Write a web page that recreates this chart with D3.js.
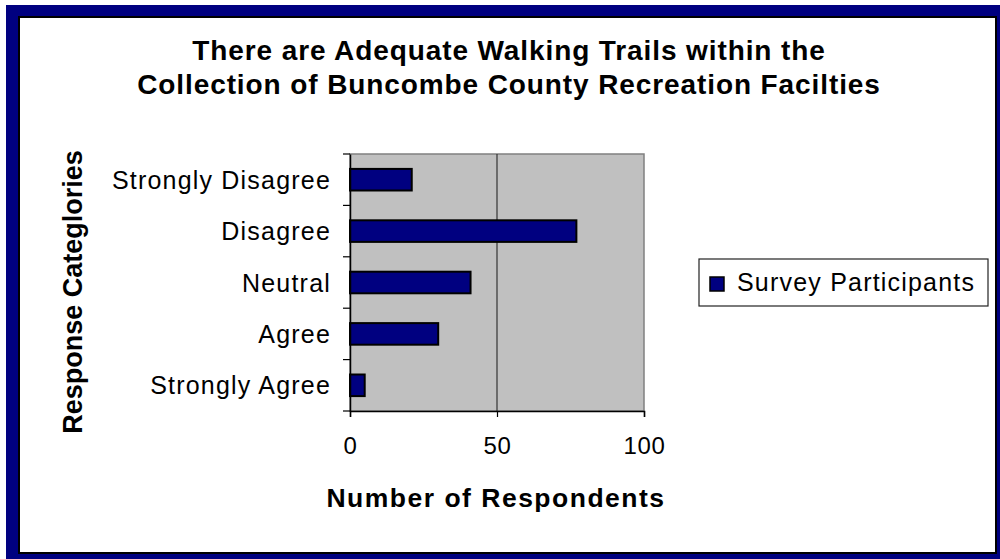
<!DOCTYPE html>
<html>
<head>
<meta charset="utf-8">
<script src="https://cdn.jsdelivr.net/npm/d3@7"></script>
<style>
  body { margin: 0; background: #fff; }
  text { font-family: "Liberation Sans", Arial, sans-serif; }
</style>
</head>
<body>
<div id="vis"></div>
<script>
// survey responses
var categories = ["Strongly Disagree", "Disagree", "Neutral", "Agree", "Strongly Agree"];
var respondents = [21, 77, 41, 30, 5];
var xTicks = [0, 50, 100];
var seriesName = "Survey Participants";

var width = 1000;
var height = 559;
var plot = { left: 350, right: 644, top: 154, bottom: 411 };

var svg = d3.select("#vis")
        .append("svg")
        .attr("width", width)
        .attr("height", height);

// navy frame with the black edged white card inside
svg.append("rect")
        .attr("x", 6)
        .attr("y", 5)
        .attr("width", width)
        .attr("height", height)
        .attr("fill", "#000080");

svg.append("rect")
        .attr("x", 19)
        .attr("y", 17)
        .attr("width", 977)
        .attr("height", 536)
        .attr("fill", "#fff")
        .attr("stroke", "#000")
        .attr("stroke-width", 2);

var title = svg.append("text")
        .attr("text-anchor", "middle")
        .style("font-size", "28px")
        .style("font-weight", "bold")
        .style("letter-spacing", "0.9px");

title.append("tspan")
        .attr("x", 509)
        .attr("y", 60)
        .text("There are Adequate Walking Trails within the");

title.append("tspan")
        .attr("x", 509)
        .attr("y", 94)
        .text("Collection of Buncombe County Recreation Facilties");

var x = d3.scaleLinear()
        .domain([0, 100])
        .range([plot.left, plot.right]);

var y = d3.scaleBand()
        .domain(categories)
        .range([plot.top, plot.bottom])
        .paddingInner(0.58)
        .paddingOuter(0.29);

// plot area
svg.append("rect")
        .attr("x", plot.left)
        .attr("y", plot.top)
        .attr("width", plot.right - plot.left)
        .attr("height", plot.bottom - plot.top)
        .attr("fill", "#c0c0c0")
        .attr("stroke", "#808080")
        .attr("stroke-width", 1.5);

// vertical gridline(s)
svg.append("g")
        .selectAll("line")
        .data(xTicks.slice(1, -1))
        .join("line")
        .attr("x1", d => x(d))
        .attr("x2", d => x(d))
        .attr("y1", plot.top)
        .attr("y2", plot.bottom)
        .attr("stroke", "#333")
        .attr("stroke-width", 1.2);

svg.append("g")
        .selectAll("rect")
        .data(categories)
        .join("rect")
        .attr("x", x(0))
        .attr("y", d => y(d))
        .attr("width", (d, i) => x(respondents[i]) - x(0))
        .attr("height", y.bandwidth())
        .attr("fill", "#000080")
        .attr("stroke", "#000")
        .attr("stroke-width", 2);

// y axis: labels centred on the bands, ticks on band edges
var yAxis = svg.append("g")
        .attr("transform", `translate(${plot.left}, 0)`)
        .call(d3.axisLeft(y).tickSize(0).tickPadding(19));

yAxis.select(".domain").attr("stroke", "#000").attr("stroke-width", 1.5);
yAxis.selectAll("text")
        .attr("fill", "#000")
        .attr("dy", "0.36em")
        .style("font-size", "25px")
        .style("letter-spacing", "1.2px");

yAxis.selectAll(".edge")
        .data(d3.range(categories.length + 1))
        .join("line")
        .attr("class", "edge")
        .attr("x1", -7)
        .attr("x2", 0)
        .attr("y1", i => plot.top + i * y.step())
        .attr("y2", i => plot.top + i * y.step())
        .attr("stroke", "#000")
        .attr("stroke-width", 1.2);

var xAxis = svg.append("g")
        .attr("transform", `translate(0, ${plot.bottom})`)
        .call(d3.axisBottom(x).tickValues(xTicks).tickSize(6).tickPadding(21));

xAxis.select(".domain").attr("stroke", "#000").attr("stroke-width", 1.5);
xAxis.selectAll(".tick line").attr("stroke", "#000").attr("stroke-width", 1.2);
xAxis.selectAll("text")
        .attr("fill", "#000")
        .attr("dy", "0.68em")
        .style("font-size", "24px")
        .style("letter-spacing", "0.6px");

svg.append("text")
        .attr("x", 496)
        .attr("y", 507)
        .attr("text-anchor", "middle")
        .style("font-size", "26.5px")
        .style("font-weight", "bold")
        .style("letter-spacing", "1.5px")
        .text("Number of Respondents");

svg.append("text")
        .attr("transform", "translate(82, 292) rotate(-90)")
        .attr("text-anchor", "middle")
        .style("font-size", "27px")
        .style("font-weight", "bold")
        .text("Response Categlories");

// legend
var legend = svg.append("g");

legend.append("rect")
        .attr("x", 699)
        .attr("y", 259)
        .attr("width", 289)
        .attr("height", 47)
        .attr("fill", "#fff")
        .attr("stroke", "#222")
        .attr("stroke-width", 1.2);

legend.append("rect")
        .attr("x", 710)
        .attr("y", 277)
        .attr("width", 14)
        .attr("height", 14)
        .attr("fill", "#000080")
        .attr("stroke", "#000")
        .attr("stroke-width", 1.5);

legend.append("text")
        .attr("x", 737)
        .attr("y", 291)
        .style("font-size", "25px")
        .style("letter-spacing", "1.2px")
        .text(seriesName);
</script>
</body>
</html>
